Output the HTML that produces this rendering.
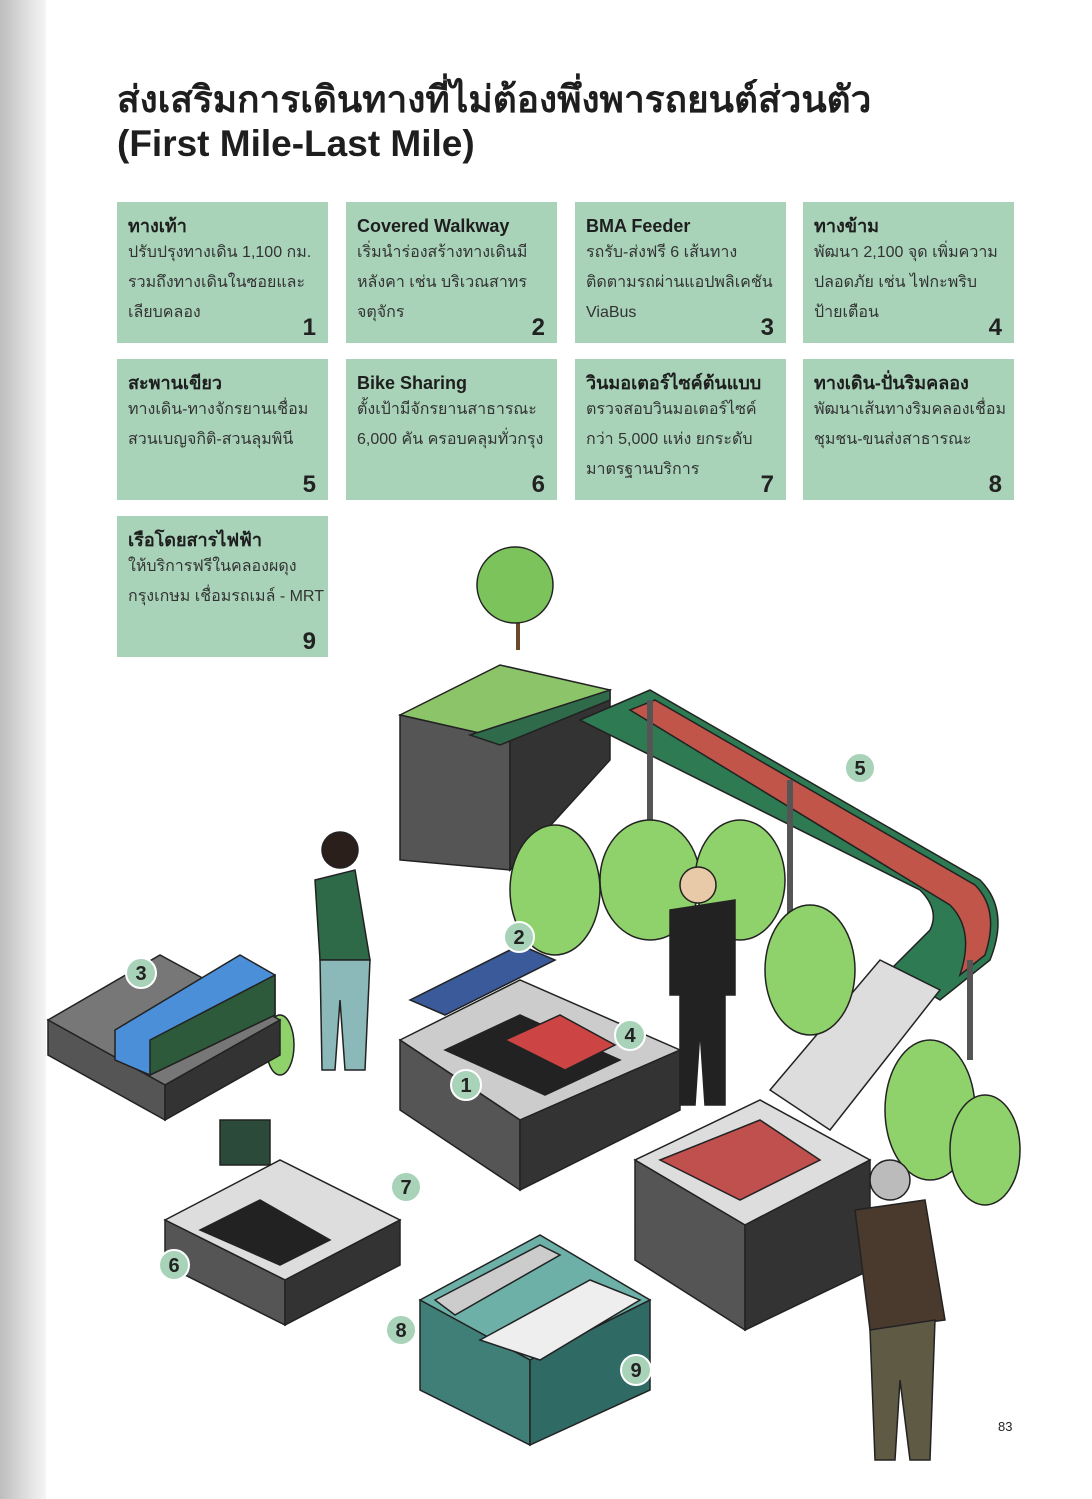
<!DOCTYPE html>
<html><head><meta charset="utf-8"><style>
body{margin:0;width:1092px;height:1499px;background:#fff;position:relative;overflow:hidden;font-family:"Liberation Sans","Noto Sans CJK SC",sans-serif;color:#222}
.strip{position:absolute;left:0;top:0;width:46px;height:1499px;background:linear-gradient(90deg,#bdbdbd,#e6e6e6 70%,#f4f4f4)}
h1{position:absolute;left:117px;top:78px;margin:0;font-size:37px;line-height:44px;font-weight:bold;color:#1e1e1e;white-space:nowrap}
.b{position:absolute;width:211px;height:141px;background:#a8d3b9;box-sizing:border-box;padding:12px 10px 0 11px;overflow:hidden}
.b .t{font-weight:bold;font-size:18px;line-height:24px;color:#1e1e1e;white-space:nowrap}
.b .d{font-size:16px;line-height:30px;color:#333;white-space:nowrap}
.b .n{position:absolute;right:12px;bottom:0;font-weight:bold;font-size:24px;line-height:30px}
.pg{position:absolute;left:998px;top:1419px;font-size:13px}
</style></head><body>
<div class="strip"></div>
<h1>ส่งเสริมการเดินทางที่ไม่ต้องพึ่งพารถยนต์ส่วนตัว<br>(First Mile-Last Mile)</h1>
<div class="b" style="left:117px;top:202px"><div class="t">ทางเท้า</div><div class="d">ปรับปรุงทางเดิน 1,100 กม.<br>รวมถึงทางเดินในซอยและ<br>เลียบคลอง</div><div class="n">1</div></div>
<div class="b" style="left:346px;top:202px"><div class="t">Covered Walkway</div><div class="d">เริ่มนำร่องสร้างทางเดินมี<br>หลังคา เช่น บริเวณสาทร<br>จตุจักร</div><div class="n">2</div></div>
<div class="b" style="left:575px;top:202px"><div class="t">BMA Feeder</div><div class="d">รถรับ-ส่งฟรี 6 เส้นทาง<br>ติดตามรถผ่านแอปพลิเคชัน<br>ViaBus</div><div class="n">3</div></div>
<div class="b" style="left:803px;top:202px"><div class="t">ทางข้าม</div><div class="d">พัฒนา 2,100 จุด เพิ่มความ<br>ปลอดภัย เช่น ไฟกะพริบ<br>ป้ายเตือน</div><div class="n">4</div></div>
<div class="b" style="left:117px;top:359px"><div class="t">สะพานเขียว</div><div class="d">ทางเดิน-ทางจักรยานเชื่อม<br>สวนเบญจกิติ-สวนลุมพินี</div><div class="n">5</div></div>
<div class="b" style="left:346px;top:359px"><div class="t">Bike Sharing</div><div class="d">ตั้งเป้ามีจักรยานสาธารณะ<br>6,000 คัน ครอบคลุมทั่วกรุง</div><div class="n">6</div></div>
<div class="b" style="left:575px;top:359px"><div class="t">วินมอเตอร์ไซค์ต้นแบบ</div><div class="d">ตรวจสอบวินมอเตอร์ไซค์<br>กว่า 5,000 แห่ง ยกระดับ<br>มาตรฐานบริการ</div><div class="n">7</div></div>
<div class="b" style="left:803px;top:359px"><div class="t">ทางเดิน-ปั่นริมคลอง</div><div class="d">พัฒนาเส้นทางริมคลองเชื่อม<br>ชุมชน-ขนส่งสาธารณะ</div><div class="n">8</div></div>
<div class="b" style="left:117px;top:516px"><div class="t">เรือโดยสารไฟฟ้า</div><div class="d">ให้บริการฟรีในคลองผดุง<br>กรุงเกษม เชื่อมรถเมล์ - MRT</div><div class="n">9</div></div>

<svg style="position:absolute;left:0;top:0" width="1092" height="1499" stroke="#222" stroke-width="1.5">
<polygon points="400,715 500,665 610,690 510,740" fill="#8cc46a"/>
<polygon points="400,715 510,740 510,870 400,860" fill="#555"/>
<polygon points="510,740 610,690 610,760 510,870" fill="#333"/>
<polygon points="470,735 610,690 610,700 500,745" fill="#2f6b4a"/>
<line x1="518" y1="600" x2="518" y2="650" stroke="#6b4a2a" stroke-width="4"/>
<circle cx="515" cy="585" r="38" fill="#7cc35c"/>
<path d="M580,720 L650,690 L980,880 Q1010,910 990,960 L940,1000 L890,970 L930,930 Q940,910 920,890 Z" fill="#2e7a52"/>
<path d="M630,710 L655,700 L975,885 Q1000,910 985,955 L960,975 Q975,930 950,905 Z" fill="#c2554a"/>
<line x1="650" y1="700" x2="650" y2="930" stroke-width="6" stroke="#555"/>
<line x1="790" y1="780" x2="790" y2="950" stroke-width="6" stroke="#555"/>
<line x1="970" y1="960" x2="970" y2="1060" stroke-width="6" stroke="#555"/>
<polygon points="770,1090 880,960 940,990 830,1130" fill="#ddd"/>
<g fill="#8fd16a">
<ellipse cx="555" cy="890" rx="45" ry="65"/><ellipse cx="650" cy="880" rx="50" ry="60"/><ellipse cx="740" cy="880" rx="45" ry="60"/>
<ellipse cx="810" cy="970" rx="45" ry="65"/><ellipse cx="930" cy="1110" rx="45" ry="70"/><ellipse cx="985" cy="1150" rx="35" ry="55"/>
<ellipse cx="280" cy="1045" rx="14" ry="30"/></g>
<polygon points="400,1040 520,980 680,1050 520,1120" fill="#ccc"/>
<polygon points="400,1040 520,1120 520,1190 400,1110" fill="#555"/>
<polygon points="520,1120 680,1050 680,1110 520,1190" fill="#333"/>
<polygon points="445,1050 520,1015 620,1060 545,1095" fill="#222"/>
<polygon points="505,1040 560,1015 615,1045 565,1070" fill="#c44"/>
<polygon points="410,1000 520,945 555,960 445,1015" fill="#3a5a9a"/>
<polygon points="635,1160 760,1100 870,1160 745,1225" fill="#ddd"/>
<polygon points="660,1160 760,1120 820,1160 740,1200" fill="#c0504d"/>
<polygon points="635,1160 745,1225 745,1330 635,1260" fill="#555"/>
<polygon points="745,1225 870,1160 870,1270 745,1330" fill="#333"/>
<polygon points="48,1020 160,955 280,1020 165,1085" fill="#777"/>
<polygon points="48,1020 165,1085 165,1120 48,1055" fill="#555"/>
<polygon points="165,1085 280,1020 280,1055 165,1120" fill="#333"/>
<polygon points="115,1030 240,955 275,975 275,1015 150,1075 115,1060" fill="#4a8fd8"/>
<polygon points="150,1040 275,975 275,1015 150,1075" fill="#2d5a3a"/>
<polygon points="165,1220 280,1160 400,1220 285,1280" fill="#ddd"/>
<polygon points="200,1230 260,1200 330,1240 280,1265" fill="#222"/>
<polygon points="165,1220 285,1280 285,1325 165,1265" fill="#555"/>
<polygon points="285,1280 400,1220 400,1265 285,1325" fill="#333"/>
<rect x="220" y="1120" width="50" height="45" fill="#2c4a3a"/>
<polygon points="420,1300 540,1235 650,1300 530,1360" fill="#6cb0a8"/>
<polygon points="420,1300 530,1360 530,1445 420,1390" fill="#3f7f78"/>
<polygon points="530,1360 650,1300 650,1390 530,1445" fill="#2f6a64"/>
<polygon points="435,1300 540,1245 560,1255 455,1315" fill="#ccc"/>
<polygon points="480,1340 590,1280 640,1300 540,1360" fill="#eee"/>
<g fill="#2e6a48"><polygon points="315,880 355,870 370,960 320,960"/></g>
<g fill="#8bb8b8"><polygon points="320,960 370,960 365,1070 345,1070 340,1000 335,1070 322,1070"/></g>
<circle cx="340" cy="850" r="18" fill="#2a1f1a"/>
<g fill="#222"><polygon points="670,910 735,900 735,995 670,995"/><polygon points="680,995 725,995 725,1105 705,1105 700,1030 695,1105 680,1105"/></g>
<circle cx="698" cy="885" r="18" fill="#e8c9a8"/>
<g fill="#4a3a2e"><polygon points="855,1210 925,1200 945,1320 870,1330"/></g>
<g fill="#5e5a44"><polygon points="870,1330 935,1320 930,1460 910,1460 900,1380 895,1460 875,1460"/></g>
<circle cx="890" cy="1180" r="20" fill="#bbb"/>
<g fill="#a8d3b9" stroke="#fff" stroke-width="2">
<circle cx="141" cy="973" r="15"/><circle cx="519" cy="937" r="15"/><circle cx="630" cy="1035" r="15"/><circle cx="466" cy="1085" r="15"/><circle cx="860" cy="768" r="15"/><circle cx="406" cy="1187" r="15"/><circle cx="174" cy="1265" r="15"/><circle cx="401" cy="1330" r="15"/><circle cx="636" cy="1370" r="15"/></g>
<g font-family="Liberation Sans" font-weight="bold" font-size="20" fill="#222" stroke="none" text-anchor="middle">
<text x="141" y="980">3</text><text x="519" y="944">2</text><text x="630" y="1042">4</text><text x="466" y="1092">1</text><text x="860" y="775">5</text><text x="406" y="1194">7</text><text x="174" y="1272">6</text><text x="401" y="1337">8</text><text x="636" y="1377">9</text></g>
</svg>
<div class="pg">83</div>
</body></html>
